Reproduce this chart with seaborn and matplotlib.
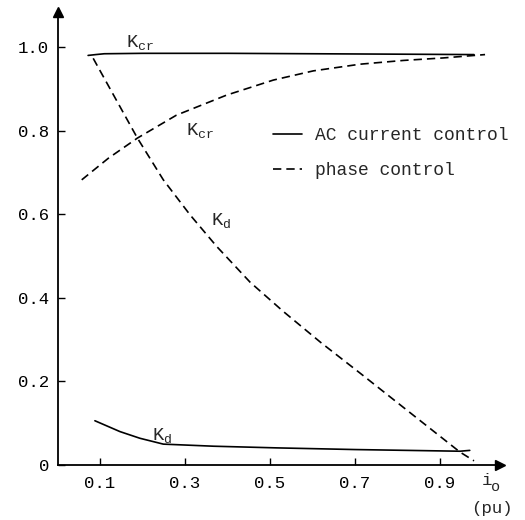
import matplotlib
matplotlib.use("Agg")
import matplotlib.pyplot as plt
import seaborn as sns
import pandas as pd
from matplotlib.lines import Line2D

# ---- data ----
ac_kcr_x = [0.072, 0.09, 0.11, 0.2, 0.4, 0.6, 0.8, 0.98]
ac_kcr_y = [0.981, 0.983, 0.985, 0.986, 0.986, 0.985, 0.984, 0.983]

ac_kd_x = [0.088, 0.147, 0.194, 0.249, 0.367, 0.516, 0.7, 0.947, 0.97]
ac_kd_y = [0.106, 0.080, 0.064, 0.050, 0.045, 0.041, 0.037, 0.033, 0.035]

ph_kcr_x = [0.057, 0.12, 0.188, 0.28, 0.398, 0.508, 0.602, 0.712, 0.814, 0.908, 1.006]
ph_kcr_y = [0.683, 0.735, 0.783, 0.838, 0.886, 0.922, 0.944, 0.960, 0.969, 0.975, 0.983]

ph_kd_x = [0.084, 0.188, 0.249, 0.312, 0.375, 0.453, 0.531, 0.62, 0.712, 0.83, 0.947, 0.98]
ph_kd_y = [0.974, 0.783, 0.683, 0.599, 0.523, 0.438, 0.368, 0.293, 0.22, 0.125, 0.031, 0.01]

x_ticks = [0.1, 0.3, 0.5, 0.7, 0.9]
y_ticks = [0, 0.2, 0.4, 0.6, 0.8, 1.0]
y_ticklabels = ["0", "0.2", "0.4", "0.6", "0.8", "1.0"]
legend_labels = ["AC current control", "phase control"]

frames = []
for name, ctrl, xs, ys in [
    ("ac_kcr", legend_labels[0], ac_kcr_x, ac_kcr_y),
    ("ac_kd", legend_labels[0], ac_kd_x, ac_kd_y),
    ("ph_kcr", legend_labels[1], ph_kcr_x, ph_kcr_y),
    ("ph_kd", legend_labels[1], ph_kd_x, ph_kd_y),
]:
    frames.append(pd.DataFrame({"x": xs, "y": ys, "curve": name, "control": ctrl}))
df = pd.concat(frames, ignore_index=True)

sns.set_style("white")
plt.rcParams["font.family"] = ["Liberation Mono", "DejaVu Sans Mono"]
plt.rcParams["mathtext.fontset"] = "custom"
plt.rcParams["mathtext.rm"] = "Liberation Mono"
plt.rcParams["mathtext.it"] = "Liberation Mono"

fig = plt.figure(figsize=(5.25, 5.2), dpi=100)
ax = fig.add_axes([57.5 / 525, 55 / 520, 442 / 525, 453 / 520])

dash = (5, 3)
sns.lineplot(data=df, x="x", y="y", units="curve", style="control",
             estimator=None, sort=False, color="black", linewidth=1.2,
             dashes={legend_labels[0]: "", legend_labels[1]: dash},
             legend=False, ax=ax)

ax.set_xlim(0, 1.04)
ax.set_ylim(0, 1.085)
for s in ["top", "right"]:
    ax.spines[s].set_visible(False)
for s in ["left", "bottom"]:
    ax.spines[s].set_color("black")
    ax.spines[s].set_linewidth(1.3)

ax.set_xticks(x_ticks)
ax.set_xticklabels([f"{v:.1f}" for v in x_ticks])
ax.set_yticks(y_ticks)
ax.set_yticklabels(y_ticklabels)
ax.tick_params(axis="both", direction="in", length=5, width=1, colors="black",
               labelsize=12.5, left=True, bottom=True)
ax.tick_params(axis="x", pad=8)
ax.tick_params(axis="y", pad=6)
ax.set_xlabel("")
ax.set_ylabel("")

# arrows at axis ends
ax.plot(1, 0, ">k", markersize=7, transform=ax.get_yaxis_transform(), clip_on=False)
ax.plot(0, 1, "^k", markersize=7, transform=ax.get_xaxis_transform(), clip_on=False)

# curve labels
fs = 13.5
ax.text(0.194, 1.013, r"$\mathrm{K_{cr}}$", fontsize=fs, ha="center", va="center")
ax.text(0.335, 0.802, r"$\mathrm{K_{cr}}$", fontsize=fs, ha="center", va="center")
ax.text(0.385, 0.585, r"$\mathrm{K_{d}}$", fontsize=fs, ha="center", va="center")
ax.text(0.245, 0.07, r"$\mathrm{K_{d}}$", fontsize=fs, ha="center", va="center")

# axis label
ax.text(1.01, -0.036, "i", fontsize=12.5, ha="center", va="center", clip_on=False)
ax.text(1.03, -0.052, "o", fontsize=11, ha="center", va="center", clip_on=False)
ax.text(1.022, -0.103, "(pu)", fontsize=12.5, ha="center", va="center", clip_on=False)

handles = [Line2D([], [], color="black", lw=1.2),
           Line2D([], [], color="black", lw=1.2, dashes=dash)]
ax.legend(handles, legend_labels, frameon=False, fontsize=13,
          loc="upper left", bbox_to_anchor=(273 / 525, 1 - 127 / 520),
          bbox_transform=fig.transFigure, borderpad=0, borderaxespad=0,
          handlelength=1.6, handletextpad=0.7, labelspacing=1.0)

fig.savefig("out.png", dpi=100, facecolor="white")
